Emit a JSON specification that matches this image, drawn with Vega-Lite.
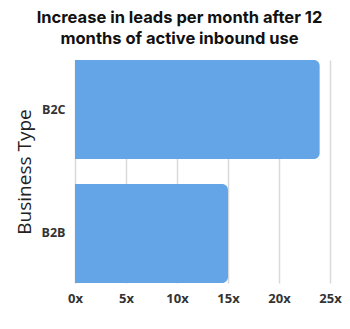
{
  "$schema": "https://vega.github.io/schema/vega-lite/v6.json",
  "width": 255,
  "height": 223,
  "autosize": {"type": "none"},
  "padding": {"left": 75, "right": 20, "top": 60, "bottom": 46},
  "background": "white",
  "title": {
    "text": ["Increase in leads per month after 12", "months of active inbound use"],
    "font": "Inter",
    "fontSize": 16.5,
    "fontWeight": 700,
    "color": "#111111",
    "anchor": "middle",
    "frame": "group",
    "lineHeight": 21,
    "offset": 13,
    "dx": -23
  },
  "data": {
    "values": [
      {"type": "B2C", "increase": 24},
      {"type": "B2B", "increase": 15}
    ]
  },
  "mark": {"type": "bar", "color": "#64A5E8", "cornerRadiusEnd": 6},
  "encoding": {
    "y": {
      "field": "type",
      "type": "nominal",
      "sort": ["B2C", "B2B"],
      "title": "Business Type",
      "scale": {"paddingInner": 0.2, "paddingOuter": 0},
      "axis": {
        "domain": false,
        "ticks": false,
        "labelFont": "Open Sans",
        "labelFontWeight": 700,
        "labelFontSize": 12.5,
        "labelColor": "#333333",
        "labelPadding": 10,
        "titleFont": "Open Sans",
        "titleFontSize": 19,
        "titleFontWeight": 400,
        "titleColor": "#222222",
        "titleX": -41,
        "titleY": 111.5
      }
    },
    "x": {
      "field": "increase",
      "type": "quantitative",
      "title": null,
      "scale": {"domain": [0, 25], "nice": false},
      "axis": {
        "values": [0, 5, 10, 15, 20, 25],
        "labelExpr": "datum.value + 'x'",
        "labelFlush": false,
        "domain": false,
        "ticks": false,
        "grid": true,
        "gridColor": "#d9d9d9",
        "gridWidth": 1.5,
        "labelFont": "Open Sans",
        "labelFontWeight": 700,
        "labelFontSize": 13,
        "labelColor": "#333333",
        "labelPadding": 9
      }
    }
  },
  "config": {"view": {"stroke": null}}
}
